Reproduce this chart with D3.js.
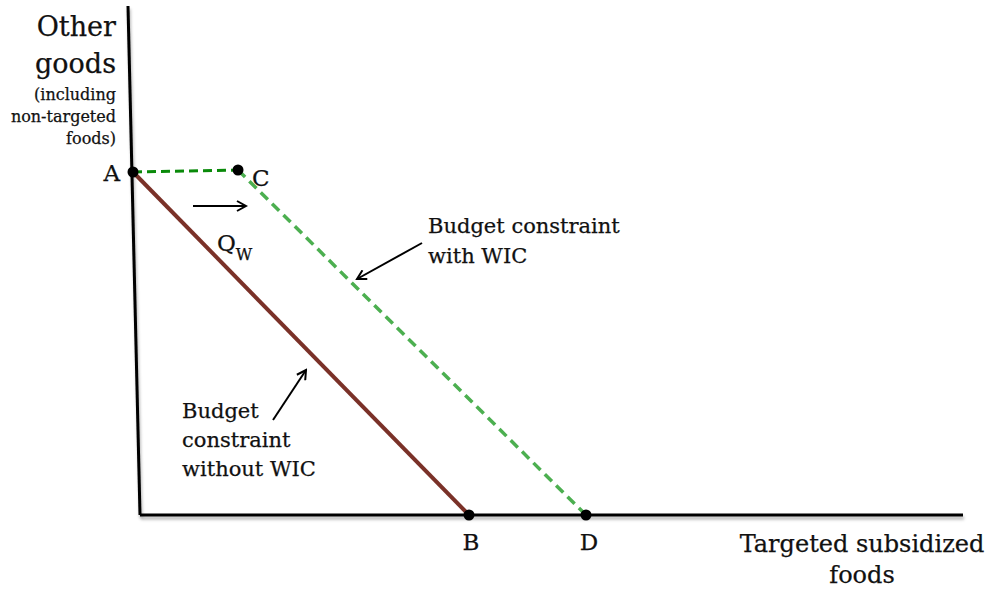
<!DOCTYPE html>
<html>
<head>
<meta charset="utf-8">
<script src="https://cdn.jsdelivr.net/npm/d3@7"></script>
<style>
  body { margin: 0; background: #fff; }
  svg text { font-family: "DejaVu Serif", serif; fill: #111; stroke: #111; stroke-width: 0.25px; }
</style>
</head>
<body>
<div id="chart"></div>
<script>
// points of the two budget lines (x = targeted foods, y = other goods)
var pointNames = ['A', 'C', 'B', 'D'];
var pointX = [0, 1.05, 3.36, 4.53];
var pointY = [6.86, 6.9, 0, 0];

// axis ends
var yAxisX = [-0.05, 0.07];
var yAxisY = [10.18, 0];
var xAxisX = [0.07, 8.3];
var xAxisY = [0, 0];

// point labels
var labelX = [-0.13, 1.19, 3.38, 4.56];
var labelY = [6.68, 6.58, -0.7, -0.7];

// axis titles
var yTitle = ['Other', 'goods'];
var yTitleSmall = ['(including', 'non-targeted', 'foods)'];
var xTitle = ['Targeted subsidized', 'foods'];

// notes
var withWic = ['Budget constraint', 'with WIC'];
var withoutWic = ['Budget', 'constraint', 'without WIC'];

// arrows [x0, y0, x1, y1]
var arrows = [
  [0.60, 6.18, 1.13, 6.18],
  [2.89, 5.44, 2.24, 4.72],
  [1.40, 1.90, 1.73, 2.90]
];

var width = 993, height = 594;

var x = d3.scaleLinear().domain([0, 8.3]).range([133, 963]);
var y = d3.scaleLinear().domain([0, 10]).range([515, 15]);

var svg = d3.select('#chart').append('svg')
  .attr('width', width)
  .attr('height', height);

var defs = svg.append('defs');

defs.append('filter')
  .attr('id', 'shadow')
  .attr('filterUnits', 'userSpaceOnUse')
  .attr('x', 0).attr('y', 0)
  .attr('width', width).attr('height', height)
  .append('feDropShadow')
  .attr('dx', 1).attr('dy', 3)
  .attr('stdDeviation', 1.5)
  .attr('flood-color', '#000')
  .attr('flood-opacity', 0.3);

defs.append('marker')
  .attr('id', 'head')
  .attr('viewBox', '0 0 12 12')
  .attr('refX', 10).attr('refY', 6)
  .attr('markerWidth', 12).attr('markerHeight', 12)
  .attr('markerUnits', 'userSpaceOnUse')
  .attr('orient', 'auto')
  .append('path')
  .attr('d', 'M1,1 L10,6 L1,11')
  .attr('fill', 'none')
  .attr('stroke', '#000')
  .attr('stroke-width', 2);

var line = d3.line().x((d) => x(d[0])).y((d) => y(d[1]));

// Axes
svg.append('path')
  .datum(d3.zip(yAxisX, yAxisY))
  .attr('d', line)
  .attr('stroke', '#000')
  .attr('stroke-width', 3)
  .attr('fill', 'none')
  .attr('filter', 'url(#shadow)');

svg.append('path')
  .datum(d3.zip(xAxisX, xAxisY))
  .attr('d', line)
  .attr('stroke', '#000')
  .attr('stroke-width', 3)
  .attr('fill', 'none')
  .attr('filter', 'url(#shadow)');

var pts = {};
pointNames.forEach((n, i) => { pts[n] = [pointX[i], pointY[i]]; });

// Budget without WIC
svg.append('path')
  .datum([pts.A, pts.B])
  .attr('d', line)
  .attr('stroke', '#7a3128')
  .attr('stroke-width', 4)
  .attr('fill', 'none');

// Budget with WIC
svg.append('path')
  .datum([pts.A, pts.C])
  .attr('d', line)
  .attr('stroke', '#0a8a0a')
  .attr('stroke-width', 3)
  .attr('stroke-dasharray', '9,5')
  .attr('fill', 'none');

svg.append('path')
  .datum([pts.C, pts.D])
  .attr('d', line)
  .attr('stroke', '#4caf50')
  .attr('stroke-width', 3.5)
  .attr('stroke-dasharray', '10,6')
  .attr('fill', 'none');

// Dots
svg.selectAll('.dot').data(pointNames)
  .join('circle')
  .attr('class', 'dot')
  .attr('cx', (d, i) => x(pointX[i]))
  .attr('cy', (d, i) => y(pointY[i]))
  .attr('r', 5.5)
  .attr('fill', '#000');

svg.selectAll('.plabel').data(pointNames)
  .join('text')
  .attr('class', 'plabel')
  .attr('x', (d, i) => x(labelX[i]))
  .attr('y', (d, i) => y(labelY[i]))
  .attr('text-anchor', (d, i) => i == 0 ? 'end' : (i == 1 ? 'start' : 'middle'))
  .attr('font-size', 23)
  .text((d) => d);

// Q_W
var q = svg.append('text')
  .attr('x', x(0.84))
  .attr('y', y(5.28))
  .attr('font-size', 23);
q.append('tspan').text('Q');
q.append('tspan').attr('font-size', 16).attr('dy', 9).text('W');

// Axis titles
svg.selectAll('.ytitle').data(yTitle)
  .join('text')
  .attr('class', 'ytitle')
  .attr('x', x(-0.17))
  .attr('y', (d, i) => y(9.58 - i * 0.74))
  .attr('text-anchor', 'end')
  .attr('font-size', 27)
  .text((d) => d);

svg.selectAll('.ysmall').data(yTitleSmall)
  .join('text')
  .attr('class', 'ysmall')
  .attr('x', x(-0.17))
  .attr('y', (d, i) => y(8.30 - i * 0.44))
  .attr('text-anchor', 'end')
  .attr('font-size', 16)
  .text((d) => d);

svg.selectAll('.xtitle').data(xTitle)
  .join('text')
  .attr('class', 'xtitle')
  .attr('x', x(7.29))
  .attr('y', (d, i) => y(-0.74 - i * 0.62))
  .attr('text-anchor', 'middle')
  .attr('font-size', 24)
  .text((d) => d);

// Notes
svg.selectAll('.withnote').data(withWic)
  .join('text')
  .attr('class', 'withnote')
  .attr('x', x(2.95))
  .attr('y', (d, i) => y(5.64 - i * 0.6))
  .attr('font-size', 21)
  .text((d) => d);

svg.selectAll('.withoutnote').data(withoutWic)
  .join('text')
  .attr('class', 'withoutnote')
  .attr('x', x(0.49))
  .attr('y', (d, i) => y(1.94 - i * 0.58))
  .attr('font-size', 21)
  .text((d) => d);

// Arrows
svg.selectAll('.arrow').data(arrows)
  .join('line')
  .attr('class', 'arrow')
  .attr('x1', (d) => x(d[0]))
  .attr('y1', (d) => y(d[1]))
  .attr('x2', (d) => x(d[2]))
  .attr('y2', (d) => y(d[3]))
  .attr('stroke', '#000')
  .attr('stroke-width', 2)
  .attr('marker-end', 'url(#head)');
</script>
</body>
</html>
